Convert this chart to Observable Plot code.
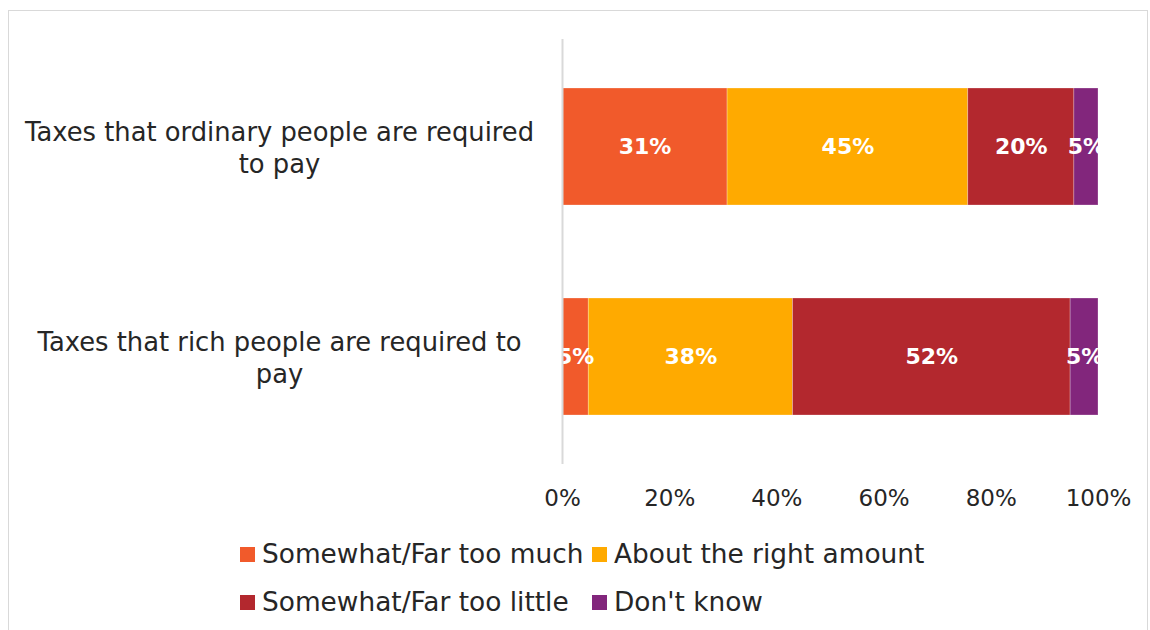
<!DOCTYPE html>
<html><head><meta charset="utf-8">
<script src="https://cdn.jsdelivr.net/npm/d3@7"></script>
<script src="https://cdn.jsdelivr.net/npm/@observablehq/plot@0.6"></script>
<style>
body{margin:0;background:#fff;}
#wrap{position:relative;width:1150px;height:630px;overflow:hidden;font-family:"DejaVu Sans",sans-serif;color:#262626;background:#fff;}
#frame{position:absolute;left:8px;top:10px;width:1140px;height:640px;border:1px solid #d9d9d9;box-sizing:border-box;}
#chart{position:absolute;left:0;top:0;}
.leg{position:absolute;font-size:26.4px;line-height:1;display:flex;align-items:center;white-space:nowrap;color:#262626;}
.sw{width:15px;height:15px;margin-right:7px;flex:none;}
</style></head>
<body><div id="wrap"><div id="frame"></div><div id="chart"></div><div id="legend"></div></div>
<script>
const categories = ["Taxes that ordinary people are required to pay","Taxes that rich people are required to pay"];
const categoryLines = [["Taxes that ordinary people are required","to pay"],["Taxes that rich people are required to","pay"]];
const seriesNames = ["Somewhat/Far too much","About the right amount","Somewhat/Far too little","Don't know"];
const seriesColors = ["#F15A2B","#FFAA00","#B3282E","#82267C"];
const ordinaryValues = [30.8,44.9,19.8,4.5];
const richValues = [4.9,38.1,51.8,5.2];
const xTicks = [0,20,40,60,80,100];

const valuesByCategory = [ordinaryValues, richValues];
const rows = categories.flatMap((c,i)=>seriesNames.map((s,j)=>({category:c, series:s, value:valuesByCategory[i][j]})));

const chart = Plot.plot({
  width:1150, height:530,
  marginLeft:562, marginRight:52, marginTop:39, marginBottom:66,
  style:{color:"#262626", fontFamily:"DejaVu Sans, sans-serif", background:"transparent"},
  x:{domain:[0,100], axis:null, label:null},
  y:{domain:categories, paddingInner:0.441, paddingOuter:0.228, align:0.5, axis:null, label:null},
  color:{domain:seriesNames, range:seriesColors},
  marks:[
    Plot.barX(rows, Plot.stackX({x:"value", y:"category", fill:"series", order:seriesNames, stroke:"white", strokeOpacity:0.35, strokeWidth:0.75})),
    Plot.textX(rows, Plot.stackX({x:"value", y:"category", z:"series", order:seriesNames, text:d=>Math.round(d.value)+"%", fill:"white", fontWeight:"bold", fontSize:22, clip:true})),
    Plot.ruleX([0], {stroke:"#d9d9d9", strokeWidth:2}),
    Plot.axisX({ticks:xTicks, tickFormat:d=>d+"%", tickSize:0, tickPadding:25, fontSize:23, label:null}),
    Plot.text(categories, {y:d=>d, frameAnchor:"left", dx:-283, textAnchor:"middle", lineHeight:1.25, fontSize:25.8, fill:"#262626", text:d=>categoryLines[categories.indexOf(d)].join("\n")})
  ]
});
document.getElementById("chart").appendChild(chart);

const legendPos = [[240,547],[592,547],[240,595],[592,595]];
const legend = document.getElementById("legend");
seriesNames.forEach((s,i)=>{
  const item = document.createElement("div");
  item.className = "leg";
  item.style.left = legendPos[i][0]+"px";
  item.style.top = (legendPos[i][1]-5)+"px";
  item.style.height = "25px";
  const sw = document.createElement("div");
  sw.className = "sw";
  sw.style.background = seriesColors[i];
  const t = document.createElement("span");
  t.textContent = s;
  item.appendChild(sw); item.appendChild(t);
  legend.appendChild(item);
});
</script></body></html>
